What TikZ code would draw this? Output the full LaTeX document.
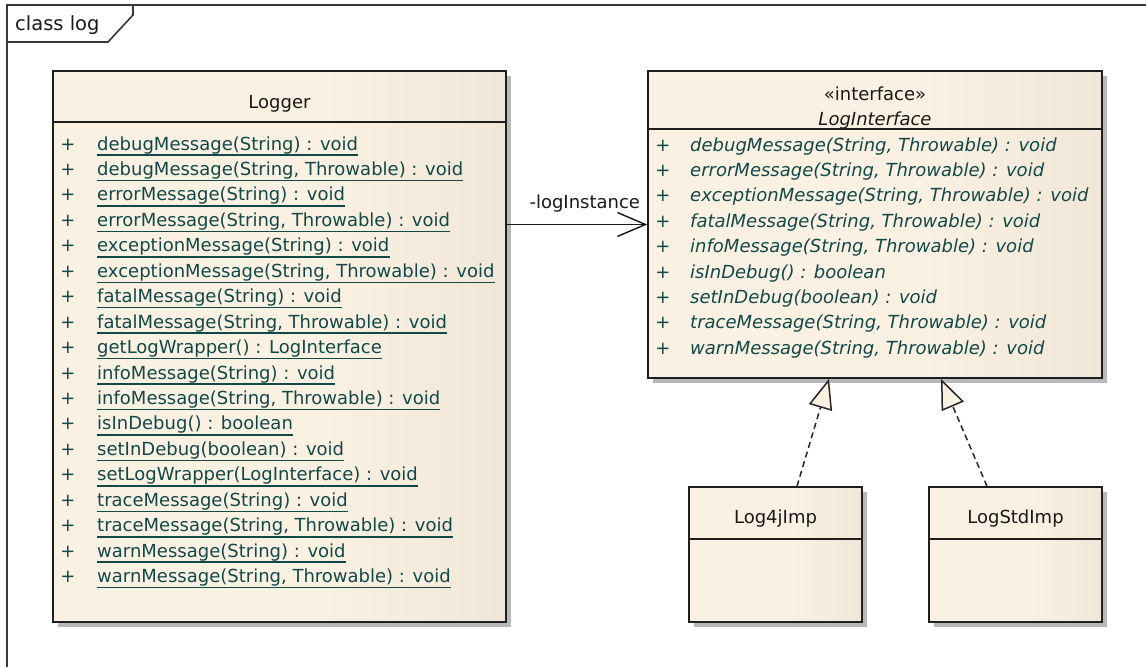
\documentclass[tikz,border=0pt]{standalone}
\usepackage{fontspec}
\setmainfont{DejaVu Sans}
\usetikzlibrary{arrows.meta,shadows,calc}

\definecolor{fillL}{RGB}{251,241,227}
\definecolor{fillR}{RGB}{226,218,203}
\definecolor{opText}{RGB}{18,72,72}
\definecolor{frameGray}{RGB}{55,55,55}
\definecolor{boxLine}{RGB}{30,30,30}

% class body: flat cream that darkens towards the right edge
\pgfdeclarehorizontalshading{classfill}{100bp}{color(0bp)=(fillL); color(55bp)=(fillL); color(100bp)=(fillR)}

\tikzset{
  basefont/.style={font=\fontsize{18pt}{20pt}\selectfont},
  umlclass/.style={rectangle, inner sep=0pt, draw=boxLine, line width=1.6pt,
    shading=classfill,
    drop shadow={shadow xshift=5pt, shadow yshift=-5pt, fill=black!28, opacity=1}},
  sepline/.style={draw=boxLine, line width=1.6pt},
  classtitle/.style={basefont, text=black!90, inner sep=0pt},
  optext/.style={basefont, text=opText, inner sep=0pt},
  abstracttext/.style={optext, font=\fontsize{18pt}{20pt}\selectfont\itshape},
  plussign/.style={basefont, text=opText, inner sep=0pt},
  ulline/.style={draw=opText, line width=1.5pt},
  frameline/.style={draw=frameGray, line width=1.6pt},
  assoc/.style={draw=black!90, line width=1.4pt, -{Straight Barb[length=28pt,width=24pt]}},
  realize/.style={draw=black!85, line width=1.5pt, dash pattern=on 6pt off 4pt,
    -{Triangle[length=30pt,width=24pt,fill=fillL]}},
  lbl/.style={basefont, text=black!90, inner sep=0pt}
}

\begin{document}
\begin{tikzpicture}[x=1pt,y=-1pt]
\useasboundingbox (0,0) rectangle (1146,667);
\fill[white] (0,0) rectangle (1146,667);

% diagram frame with its name tab
\draw[frameline] (7,667) -- (7,5) -- (1146,5);
\draw[frameline] (7,42) -- (108,42) -- (133,15) -- (133,5);
\node[lbl, anchor=base west, font=\fontsize{19.5pt}{21pt}\selectfont] (framename) at (15,30) {class log};

% classes
\node[umlclass, minimum width=453pt, minimum height=551pt] (logger) at (279.5,346.5) {};
\node[umlclass, minimum width=454pt, minimum height=307pt] (iface) at (875,224.5) {};
\node[umlclass, minimum width=173pt, minimum height=135pt] (log4j) at (775.5,554.5) {};
\node[umlclass, minimum width=173pt, minimum height=135pt] (logstd) at (1015.5,554.5) {};

% compartment separators
\draw[sepline] ([yshift=-52pt]logger.north west) -- ([yshift=-52pt]logger.north east);
\draw[sepline] ([yshift=-59pt]iface.north west) -- ([yshift=-59pt]iface.north east);
\draw[sepline] ([yshift=-53pt]log4j.north west) -- ([yshift=-53pt]log4j.north east);
\draw[sepline] ([yshift=-53pt]logstd.north west) -- ([yshift=-53pt]logstd.north east);

% class names
\node[classtitle, anchor=base] (loggerName) at (279.5,108) {Logger};
\node[classtitle, anchor=base] (ifaceStereo) at (875,100) {«interface»};
\node[classtitle, anchor=base, font=\fontsize{18pt}{20pt}\selectfont\itshape] (ifaceName) at (875,125) {LogInterface};
\node[classtitle, anchor=base] (log4jName) at (775.5,523) {Log4jImp};
\node[classtitle, anchor=base] (logstdName) at (1015.5,523) {LogStdImp};

% Logger operations (static, underlined)
\foreach [count=\i from 0] \op in {
  {debugMessage(String) : void},
  {debugMessage(String, Throwable) : void},
  {errorMessage(String) : void},
  {errorMessage(String, Throwable) : void},
  {exceptionMessage(String) : void},
  {exceptionMessage(String, Throwable) : void},
  {fatalMessage(String) : void},
  {fatalMessage(String, Throwable) : void},
  {getLogWrapper() : LogInterface},
  {infoMessage(String) : void},
  {infoMessage(String, Throwable) : void},
  {isInDebug() : boolean},
  {setInDebug(boolean) : void},
  {setLogWrapper(LogInterface) : void},
  {traceMessage(String) : void},
  {traceMessage(String, Throwable) : void},
  {warnMessage(String) : void},
  {warnMessage(String, Throwable) : void}} {
  \node[plussign, anchor=base] (lplus\i) at (68,150+25.45*\i) {+};
  \node[optext, anchor=base west] (lop\i) at (97,150+25.45*\i) {\op};
  \draw[ulline] ([yshift=-5pt]lop\i.base west) -- ([yshift=-5pt]lop\i.base east);
}

% LogInterface operations (abstract, italic)
\foreach [count=\i from 0] \op in {
  {debugMessage(String, Throwable) : void},
  {errorMessage(String, Throwable) : void},
  {exceptionMessage(String, Throwable) : void},
  {fatalMessage(String, Throwable) : void},
  {infoMessage(String, Throwable) : void},
  {isInDebug() : boolean},
  {setInDebug(boolean) : void},
  {traceMessage(String, Throwable) : void},
  {warnMessage(String, Throwable) : void}} {
  \node[plussign, anchor=base] (iplus\i) at (663,151+25.4*\i) {+};
  \node[abstracttext, anchor=base west] (iop\i) at (690,151+25.4*\i) {\op};
}

% association Logger -> LogInterface
\draw[assoc] (logger.east |- iface.west) -- (iface.west);
\node[lbl, anchor=base east] (roleName) at ([xshift=-7pt,yshift=16pt]iface.west) {-logInstance};

% realizations
\draw[realize] ([xshift=21.5pt]log4j.north) -- ([xshift=-46pt]iface.south);
\draw[realize] ([xshift=-28.5pt]logstd.north) -- ([xshift=66pt]iface.south);
\end{tikzpicture}
\end{document}
